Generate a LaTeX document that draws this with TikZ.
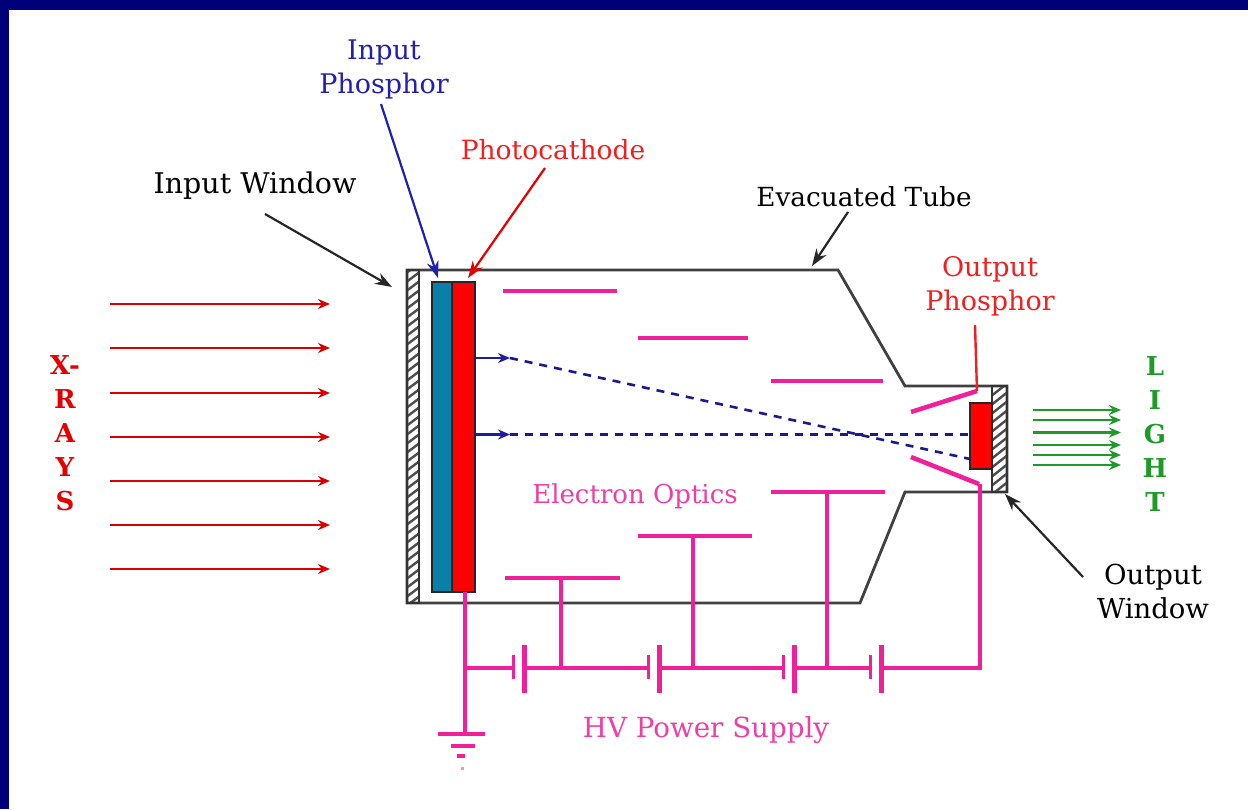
\documentclass[tikz,border=0pt]{standalone}
\usepackage{fontspec}
\setmainfont{DejaVu Serif}
\usetikzlibrary{arrows.meta}
\definecolor{navy}{HTML}{00007A}
\definecolor{hotpink}{HTML}{F0209A}
\definecolor{labelpink}{HTML}{EE3FA6}
\definecolor{phos}{HTML}{0A80A8}
\definecolor{lblred}{HTML}{F02020}
\definecolor{lblblue}{HTML}{2020B0}
\definecolor{lightgreen}{HTML}{1E9A28}
\tikzset{
 x=1pt,y=-1pt,
 lbl/.style={font=\fontsize{#1}{34}\selectfont,align=center,inner sep=0pt},
 wire/.style={draw=hotpink,line width=3.3pt},
 plate/.style={draw=hotpink,line width=4.5pt},
 tube/.style={draw=black!75,line width=2.8pt},
 frameline/.style={draw=black!80,line width=2.2pt,inner sep=0pt},
 ray/.style={draw=#1,line width=2.8pt,-{Stealth[length=12pt,width=10pt]}},
 ptr/.style={draw=#1,line width=2.2pt,-{Stealth[length=17pt,width=12pt]}},
 blk/.style={draw=black!85,line width=2pt,inner sep=0pt},
 dashline/.style={draw=lblblue!80!black,line width=2.6pt,dash pattern=on 8pt off 7pt},
 hatchline/.style={draw=black!70,line width=2.4pt},
}
\begin{document}
\begin{tikzpicture}
\useasboundingbox (0,0) rectangle (1248,809);
\fill[navy] (0,0) rectangle (1248,809);
\fill[white] (9,10) rectangle (1248,809);
% tube
\draw[tube] (407,270) -- (838,270) -- (905,386) -- (1007,386) -- (1007,492) -- (905,492) -- (860,603) -- (407,603) -- cycle;
% windows
\begin{scope}
\clip (407,270) rectangle (419,603);
\foreach \i in {0,...,37} \draw[hatchline] (405,{274+9*\i}) -- (421,{262+9*\i});
\end{scope}
\begin{scope}
\clip (992,386) rectangle (1007,492);
\foreach \i in {0,...,13} \draw[hatchline] (990,{388+9*\i}) -- (1009,{373+9*\i});
\end{scope}
\node[frameline,minimum width=12pt,minimum height=333pt] (inwin) at (413,436.5) {};
\node[frameline,minimum width=15pt,minimum height=106pt] (outwin) at (999.5,439) {};
% input screen
\node[blk,fill=phos,minimum width=20pt,minimum height=310pt] (inphos) at (442,437) {};
\node[blk,fill=red,minimum width=23pt,minimum height=310pt] (pcath) at (463.5,437) {};
\node[blk,fill=red,minimum width=22pt,minimum height=66pt] (outphos) at (981,436) {};
% electrodes
\coordinate (p1a) at (503,291); \coordinate (p1b) at (617,291);
\coordinate (p2a) at (638,338); \coordinate (p2b) at (748,338);
\coordinate (p3a) at (771,381); \coordinate (p3b) at (883,381);
\coordinate (p4a) at (771,492); \coordinate (p4b) at (885,492);
\coordinate (p5a) at (638,536); \coordinate (p5b) at (752,536);
\coordinate (p6a) at (505,578); \coordinate (p6b) at (620,578);
\coordinate (s1a) at (911,412); \coordinate (s1b) at (977,391);
\coordinate (s2a) at (911,457); \coordinate (s2b) at (979,484);
\foreach \a/\b in {p1a/p1b,p2a/p2b,p3a/p3b,p4a/p4b,p5a/p5b,p6a/p6b,s1a/s1b,s2a/s2b}
  \draw[plate] (\a) -- (\b);
% HV supply
\coordinate (t6) at (561,578); \coordinate (b6) at (561,668);
\coordinate (t5) at (693,536); \coordinate (b5) at (693,668);
\coordinate (t4) at (827,492); \coordinate (b4) at (827,668);
\coordinate (t0) at (465,592); \coordinate (b0) at (465,668); \coordinate (g0) at (465,734);
\coordinate (t7) at (980,484); \coordinate (b7) at (980,668);
\draw[wire] (t6) -- (b6);
\draw[wire] (t5) -- (b5);
\draw[wire] (t4) -- (b4);
\draw[wire] (t0) -- (g0);
\draw[wire] (t7) -- (b7) -- (881,668);
\draw[wire] (b0) -- (513,668);
\draw[wire] (524,668) -- (648,668);
\draw[wire] (659,668) -- (783,668);
\draw[wire] (794,668) -- (870,668);
\foreach \s/\l in {513/524,648/659,783/794,870/881}{
  \draw[hotpink,line width=3pt] (\s,655) -- (\s,679);
  \draw[hotpink,line width=5pt] (\l,645) -- (\l,693);
}
% ground
\draw[wire] (438,734) -- (485,734);
\draw[wire] (451,746) -- (475,746);
\draw[wire] (457,756) -- (465,756);
\draw[hotpink!50,line width=3pt] (460.5,768) -- (463.5,768);
% electrons
\coordinate (e1) at (475,358); \coordinate (e1m) at (510,358); \coordinate (e1e) at (970,459);
\coordinate (e2) at (475,434.5); \coordinate (e2m) at (510,434.5); \coordinate (e2e) at (970,434.5);
\draw[dashline] (e1m) -- (e1e);
\draw[dashline] (e2m) -- (e2e);
\draw[ray=lblblue!90!black] (e1) -- (e1m);
\draw[ray=lblblue!90!black] (e2) -- (e2m);
% x rays
\foreach \y in {304,348,393,437,481,525,569}
  \draw[ray=red!85!black] (110,\y) -- (330,\y);
% light
\foreach \y in {410,420,432.5,445,455,465}
  \draw[ray=lightgreen] (1033,\y) -- (1121,\y);
% labels
\node[lbl=27,text=lblblue] (tphos) at (384,69) {Input\\Phosphor};
\node[lbl=26.5,text=lblred] (tpc) at (553,150) {Photocathode};
\node[lbl=28.5,text=black] (twin) at (255,186) {Input Window};
\node[lbl=26.3,text=black] (ttube) at (864,197) {Evacuated Tube};
\node[lbl=27,text=lblred] (toph) at (990,286) {Output\\Phosphor};
\node[lbl=27.5,text=black] (towin) at (1153,591.5) {Output\\Window};
\node[lbl=26,text=labelpink] (teo) at (635,496) {Electron Optics};
\node[lbl=27.7,text=labelpink] (ths) at (706,730) {HV Power Supply};
\node[align=center,inner sep=0pt,text=red!90!black,font=\fontsize{26}{34}\selectfont\bfseries] (txr) at (65,433) {X-\\R\\A\\Y\\S};
\node[align=center,inner sep=0pt,text=lightgreen,font=\fontsize{26}{34}\selectfont\bfseries] (tli) at (1155,434) {L\\I\\G\\H\\T};
% pointers
\coordinate (ap) at (438,278); \coordinate (aq) at (381,104);
\coordinate (bp) at (468,278); \coordinate (bq) at (545,168);
\coordinate (cp) at (392,287); \coordinate (cq) at (265,214);
\coordinate (dp) at (812,266); \coordinate (dq) at (848,212);
\coordinate (ep) at (1005,494); \coordinate (eq) at (1083,577);
\coordinate (fp) at (977,391); \coordinate (fq) at (975,325);
\draw[ptr=lblblue] (aq) -- (ap);
\draw[ptr=red!90!black] (bq) -- (bp);
\draw[ptr=black!85] (cq) -- (cp);
\draw[ptr=black!85] (dq) -- (dp);
\draw[ptr=black!85] (eq) -- (ep);
\draw[draw=lblred,line width=2.4pt] (fq) -- (fp);
\end{tikzpicture}
\end{document}
